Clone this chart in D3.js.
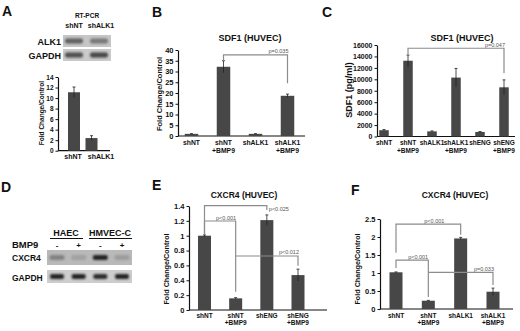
<!DOCTYPE html>
<html>
<head>
<meta charset="utf-8">
<script src="https://cdn.jsdelivr.net/npm/d3@7"></script>
<style>
  body { margin: 0; background: #fff; }
  svg { display: block; font-family: "Liberation Sans", Arial, sans-serif; }
  .narrow { font-family: "Liberation Sans Narrow", "Arial Narrow", "Liberation Sans", sans-serif; }
</style>
</head>
<body>
<svg id="fig" width="520" height="331"></svg>
<script>
// ---- data ----
// A: RT-PCR
const aLanes = ["shNT", "shALK1"];
const aAlk1Bands = [0.6, 0.45];
const aGapdhBands = [0.7, 0.75];
const aCats = [["shNT"], ["shALK1"]];
const aVals = [11.1, 2.4];
const aErr = [1.0, 0.45];
const aTicks = [0, 2, 4, 6, 8, 10, 12, 14];

// B: SDF1 fold change
const bCats = [["shNT"], ["shNT", "+BMP9"], ["shALK1"], ["shALK1", "+BMP9"]];
const bVals = [1.0, 32.2, 1.0, 18.7];
const bErr = [0.1, 2.8, 0.1, 0.8];
const bTicks = [0, 5, 10, 15, 20, 25, 30, 35, 40];
const bBrackets = [{ from: 1, to: 3, level: 37.7, y0: 35.0, y1: 24.5, label: "p=0.035", pos: "end" }];

// C: SDF1 pg/ml
const cCats = [["shNT"], ["shNT", "+BMP9"], ["shALK1"], ["shALK1", "+BMP9"], ["shENG"], ["shENG", "+BMP9"]];
const cVals = [1100, 13250, 900, 10300, 800, 8600];
const cErr = [120, 1000, 80, 1600, 70, 1300];
const cTicks = [0, 2000, 4000, 6000, 8000, 10000, 12000, 14000, 16000];
const cBrackets = [{ from: 1, to: 5, level: 15430, y0: 14430, y1: 11050, label: "p=0.047", pos: "end" }];

// D: CXCR4 RT-PCR
const dLanes = ["HAEC-", "HAEC+", "HMVEC-", "HMVEC+"];
const dSigns = ["-", "+", "-", "+"];
const dCxcr4Bands = [0.35, 0.15, 0.95, 0.18];
const dGapdhBands = [0.95, 0.95, 0.9, 0.95];

// E: CXCR4 shENG
const eCats = [["shNT"], ["shNT", "+BMP9"], ["shENG"], ["shENG", "+BMP9"]];
const eVals = [1.0, 0.157, 1.21, 0.47];
const eErr = [0.01, 0.01, 0.07, 0.08];
const eTicks = [0, 0.2, 0.4, 0.6, 0.8, 1, 1.2, 1.4];
const eBrackets = [
  { from: 0, to: 2, level: 1.404, y0: 1.01, y1: 1.346, label: "p<0.025", pos: "after" },
  { from: 0, to: 1, level: 1.198, y0: 1.01, y1: 0.246, label: "p<0.001", pos: "mid" },
  { from: 1, to: 3, level: 0.727, y0: 0.727, y1: 0.596, label: "p<0.012", pos: "end" }
];

// F: CXCR4 shALK1
const fCats = [["shNT"], ["shNT", "+BMP9"], ["shALK1"], ["shALK1", "+BMP9"]];
const fVals = [1.02, 0.23, 1.96, 0.48];
const fErr = [0.01, 0.01, 0.03, 0.1];
const fTicks = [0, 0.5, 1, 1.5, 2, 2.5];
const fBrackets = [
  { from: 0, to: 2, level: 2.36, y0: 1.56, y1: 2.06, label: "p<0.001", pos: "mid" },
  { from: 0, to: 1, level: 1.36, y0: 1.14, y1: 0.33, label: "p<0.001", pos: "mid" },
  { from: 1, to: 3, level: 1.02, y0: 1.02, y1: 0.67, label: "p=0.033", pos: "end" }
];

const svg = d3.select("#fig");
const barColor = "#474747";
const brkColor = "#8c8c8c";

// blur for gel bands
svg.append("defs").append("filter")
    .attr("id", "blur").attr("x", "-50%").attr("y", "-100%").attr("width", "200%").attr("height", "300%")
  .append("feGaussianBlur").attr("stdDeviation", 0.9);

function letter(t, x, y) {
  svg.append("text").attr("x", x).attr("y", y).text(t)
     .style("font-size", "14px").style("font-weight", "bold").attr("fill", "#111");
}

function barPanel(c) {
  const g = svg.append("g");
  const y = d3.scaleLinear().domain([0, c.max]).range([c.y0, c.yTop]);
  const x = d3.scalePoint().domain(d3.range(c.vals.length)).range(c.centers);
  const xl = c.labelCenters ? d3.scalePoint().domain(d3.range(c.vals.length)).range(c.labelCenters) : x;

  // y axis
  const yAxis = g.append("g")
      .attr("transform", `translate(${c.axisX},0)`)
      .call(d3.axisLeft(y).tickValues(c.ticks).tickSize(2.5).tickSizeOuter(0).tickPadding(2)
            .tickFormat(c.fmt || (d => d)));
  yAxis.select(".domain").attr("stroke", "#111").attr("stroke-width", 1.2);
  yAxis.selectAll(".tick line").attr("stroke", "#111");
  yAxis.selectAll("text").attr("class", "narrow").style("font-size", c.tickFont + "px").style("font-weight", "bold")
       .attr("fill", "#111").style("font-family", null);

  // x axis line
  g.append("line").attr("x1", c.axisX).attr("x2", c.xEnd)
      .attr("y1", c.y0).attr("y2", c.y0).attr("stroke", "#111").attr("stroke-width", 1.2);

  // bars
  g.selectAll("rect.bar").data(c.vals).join("rect").attr("class", "bar")
      .attr("x", (d, i) => x(i) - c.barW / 2)
      .attr("width", c.barW)
      .attr("y", d => y(d))
      .attr("height", d => c.y0 - y(d))
      .attr("fill", barColor);

  // error bars
  c.vals.forEach((v, i) => {
    const e = c.err[i];
    g.append("line").attr("x1", x(i)).attr("x2", x(i))
        .attr("y1", y(v + e)).attr("y2", y(Math.max(0, v - e)))
        .attr("stroke", "#222").attr("stroke-width", 0.8);
    g.append("line").attr("x1", x(i) - 1.5).attr("x2", x(i) + 1.5)
        .attr("y1", y(v + e)).attr("y2", y(v + e))
        .attr("stroke", "#222").attr("stroke-width", 0.8);
  });

  // category labels
  c.cats.forEach((lines, i) => {
    const t = g.append("text").attr("class", "narrow").attr("text-anchor", "middle")
        .style("font-size", c.catFont + "px").style("font-weight", "bold").attr("fill", "#111");
    lines.forEach((s, k) => {
      t.append("tspan").attr("x", xl(i)).attr("y", c.y0 + c.catGap + k * c.catLine).text(s);
    });
  });

  // brackets
  (c.brackets || []).forEach(b => {
    const xa = x(b.from), xb = x(b.to), yl = y(b.level);
    g.append("path")
        .attr("d", `M${xa},${y(b.y0)}V${yl}H${xb}V${y(b.y1)}`)
        .attr("fill", "none").attr("stroke", brkColor).attr("stroke-width", 1.2);
    let tx, anchor, ty = yl - 1.5;
    if (b.pos === "end") { tx = xb + 1; anchor = "end"; }
    else if (b.pos === "after") { tx = xb + 2; anchor = "start"; ty = yl + 5; }
    else { tx = (xa + xb) / 2 + 6; anchor = "middle"; }
    g.append("text").attr("class", "narrow").attr("x", tx).attr("y", ty).attr("text-anchor", anchor)
        .style("font-size", "5.5px").attr("fill", "#555").text(b.label);
  });

  // title
  if (c.title) {
    g.append("text").attr("x", c.title.x).attr("y", c.title.y).attr("text-anchor", "middle")
        .style("font-size", c.title.size + "px").style("font-weight", "bold").attr("fill", "#111")
        .text(c.title.text);
  }

  // y label
  g.append("text").attr("class", "narrow")
      .attr("transform", `translate(${c.ylab.x},${c.ylab.y}) rotate(-90)`)
      .attr("text-anchor", "middle")
      .style("font-size", c.ylab.size + "px").style("font-weight", "bold").attr("fill", "#111")
      .text(c.ylab.text);
}

function gel(x0, x1, yTop, h, bg, lanes, bands, bandW, bandH) {
  const lx = d3.scalePoint().domain(lanes).range(lanes.length === 2 ? [x0 + 11, x1 - 12] : [x0 + 10, x1 - 10]);
  svg.append("rect").attr("x", x0).attr("y", yTop).attr("width", x1 - x0).attr("height", h).attr("fill", bg);
  svg.append("g").selectAll("rect").data(bands).join("rect")
      .attr("x", (d, i) => lx(lanes[i]) - bandW / 2)
      .attr("y", yTop + h / 2 - bandH / 2)
      .attr("width", bandW).attr("height", bandH)
      .attr("rx", 2)
      .attr("fill", "#1a1a1a")
      .attr("opacity", d => d)
      .attr("filter", "url(#blur)");
  return lx;
}

function txt(s, x, y, size, anchor, weight) {
  return svg.append("text").attr("x", x).attr("y", y).attr("text-anchor", anchor || "start")
      .style("font-size", size + "px").style("font-weight", weight || "bold").attr("fill", "#111").text(s);
}

// ---- Panel A ----
letter("A", 2, 16);
txt("RT-PCR", 87, 18, 6.5, "middle").attr("class", "narrow");
const aLx = gel(63, 111, 35, 12, "#c6c6c6", aLanes, aAlk1Bands, 18, 5);
gel(63, 111, 49, 12, "#cacaca", aLanes, aGapdhBands, 18, 5);
aLanes.forEach(l => txt(l, aLx(l) + (l === "shALK1" ? 2 : 0), 28, 7, "middle").attr("class", "narrow"));
txt("ALK1", 61, 44.5, 9, "end");
txt("GAPDH", 61, 58.5, 9, "end");

barPanel({
  vals: aVals, err: aErr, cats: aCats, ticks: aTicks, max: 14,
  axisX: 58, xEnd: 110, y0: 150.7, yTop: 77, centers: [74, 91.5], barW: 12,
  labelCenters: [73, 101],
  tickFont: 6.5, catFont: 7, catGap: 8.5, catLine: 7,
  ylab: { x: 44, y: 113, size: 6.5, text: "Fold Change/Control" }
});

// ---- Panel B ----
letter("B", 152, 17);
barPanel({
  vals: bVals, err: bErr, cats: bCats, ticks: bTicks, max: 40, brackets: bBrackets,
  axisX: 178, xEnd: 305, y0: 136, yTop: 50, centers: [191.5, 287.5], barW: 13.5,
  tickFont: 7.5, catFont: 6.8, catGap: 9, catLine: 7.5,
  title: { x: 250, y: 41, size: 9, text: "SDF1 (HUVEC)" },
  ylab: { x: 162, y: 94, size: 7.5, text: "Fold Change/Control" }
});

// ---- Panel C ----
letter("C", 322, 17);
barPanel({
  vals: cVals, err: cErr, cats: cCats, ticks: cTicks, max: 16000, brackets: cBrackets,
  axisX: 377, xEnd: 515, y0: 136.5, yTop: 45, centers: [384, 504], barW: 9.5,
  tickFont: 7, catFont: 6.5, catGap: 8.5, catLine: 8,
  title: { x: 462, y: 41, size: 9, text: "SDF1 (HUVEC)" },
  ylab: { x: 352, y: 90, size: 9, text: "SDF1 (pg/ml)" }
});

// ---- Panel D ----
letter("D", 1, 192);
const dLx = gel(47, 132, 250, 15, "#b9b9b9", dLanes, dCxcr4Bands, 15, 5);
gel(47, 132, 270, 13, "#cdcdcd", dLanes, dGapdhBands, 14, 5);
txt("HAEC", 66, 236, 9, "middle");
txt("HMVEC-C", 110, 236, 9, "middle");
svg.append("line").attr("x1", 50).attr("x2", 83).attr("y1", 238.5).attr("y2", 238.5).attr("stroke", "#111");
svg.append("line").attr("x1", 89).attr("x2", 132).attr("y1", 238.5).attr("y2", 238.5).attr("stroke", "#111");
txt("BMP9", 12, 248, 9.5, "start");
dLanes.forEach((l, i) => txt(dSigns[i], dLx(l), 247.5, 8, "middle"));
txt("CXCR4", 12, 261, 8.5, "start");
txt("GAPDH", 12, 280.5, 8.5, "start");

// ---- Panel E ----
letter("E", 152, 190);
barPanel({
  vals: eVals, err: eErr, cats: eCats, ticks: eTicks, max: 1.4, brackets: eBrackets,
  axisX: 189, xEnd: 327, y0: 310, yTop: 206, centers: [204.5, 298], barW: 13,
  tickFont: 7.5, catFont: 6.5, catGap: 7.5, catLine: 7.5,
  title: { x: 244, y: 198, size: 8.5, text: "CXCR4 (HUVEC)" },
  ylab: { x: 169, y: 269, size: 7.2, text: "Fold Change/Control" }
});

// ---- Panel F ----
letter("F", 351, 195);
barPanel({
  vals: fVals, err: fErr, cats: fCats, ticks: fTicks, max: 2.5, brackets: fBrackets,
  axisX: 380, xEnd: 513, y0: 309, yTop: 219, centers: [396, 493], barW: 13,
  tickFont: 7.5, catFont: 6.5, catGap: 8.5, catLine: 7.5,
  title: { x: 455, y: 198, size: 8.5, text: "CXCR4 (HUVEC)" },
  ylab: { x: 360, y: 269, size: 7.2, text: "Fold Change/Control" }
});
</script>
</body>
</html>
